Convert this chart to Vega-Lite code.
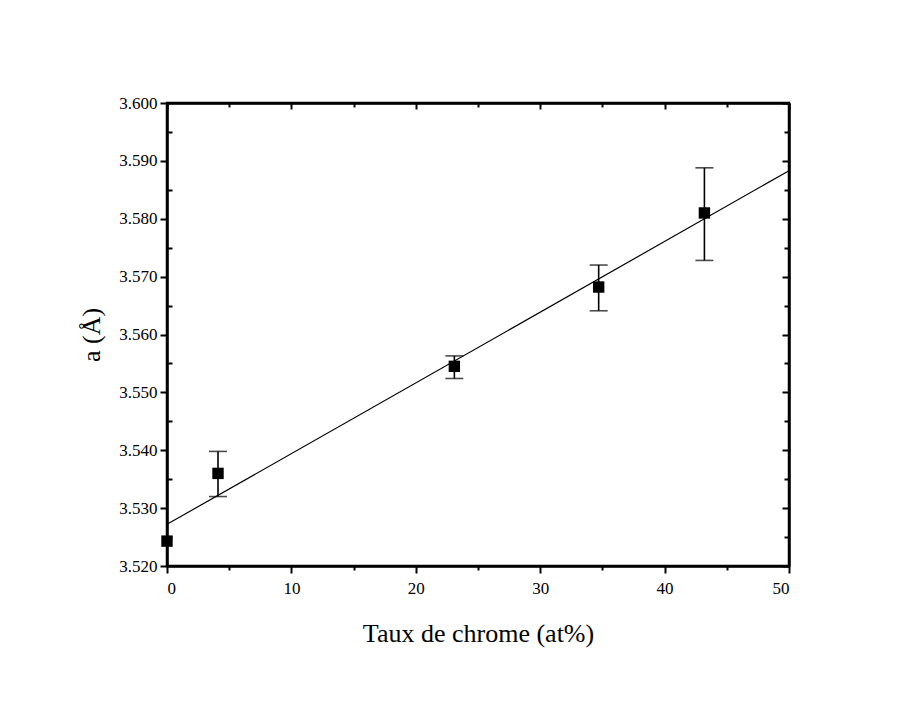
{
  "$schema": "https://vega.github.io/schema/vega-lite/v6.json",
  "width": 622,
  "height": 463,
  "autosize": "none",
  "padding": {"left": 167, "top": 103, "right": 119, "bottom": 136},
  "background": "white",
  "config": {
    "font": "Liberation Serif",
    "view": {"stroke": "black", "strokeWidth": 2.5},
    "axis": {
      "domainColor": "black",
      "domainWidth": 2.5,
      "tickColor": "black",
      "tickWidth": 2,
      "labelColor": "black",
      "labelFont": "Liberation Serif",
      "labelFontSize": 17,
      "titleFont": "Liberation Serif",
      "titleFontSize": 26,
      "titleFontWeight": "normal",
      "titleColor": "black",
      "grid": false
    }
  },
  "datasets": {
    "pts": [
      {"x": 0.0, "a": 3.5243, "lo": null, "hi": null},
      {"x": 4.1, "a": 3.5360, "lo": 3.5320, "hi": 3.5398},
      {"x": 23.1, "a": 3.5545, "lo": 3.5524, "hi": 3.5563},
      {"x": 34.7, "a": 3.5682, "lo": 3.5641, "hi": 3.5720},
      {"x": 43.2, "a": 3.5810, "lo": 3.5728, "hi": 3.5888}
    ],
    "fit": [
      {"x": 0, "a": 3.5272},
      {"x": 50, "a": 3.5883}
    ]
  },
  "resolve": {"axis": {"x": "independent", "y": "independent"}},
  "layer": [
    {
      "data": {"name": "fit"},
      "mark": {"type": "line", "color": "black", "strokeWidth": 1.2},
      "encoding": {
        "x": {
          "field": "x", "type": "quantitative",
          "scale": {"domain": [0, 50], "nice": false, "zero": false},
          "axis": {
            "orient": "bottom",
            "title": "Taux de chrome (at%)",
            "titlePadding": 24,
            "values": [0, 5, 10, 15, 20, 25, 30, 35, 40, 45, 50],
            "tickSize": {"condition": {"test": "datum.value % 10 == 0", "value": 7}, "value": 4},
            "labelExpr": "datum.value % 10 == 0 ? datum.label : ''",
            "labelPadding": 7
          }
        },
        "y": {
          "field": "a", "type": "quantitative",
          "scale": {"domain": [3.52, 3.6], "nice": false, "zero": false},
          "axis": {
            "orient": "left",
            "title": "a (Å)",
            "titlePadding": 14,
            "format": ".3f",
            "values": [3.52, 3.525, 3.53, 3.535, 3.54, 3.545, 3.55, 3.555, 3.56, 3.565, 3.57, 3.575, 3.58, 3.585, 3.59, 3.595, 3.6],
            "tickSize": {"condition": {"test": "round(datum.value*1000) % 10 == 0", "value": 7}, "value": -5},
            "labelExpr": "round(datum.value*1000) % 10 == 0 ? datum.label : ''",
            "labelPadding": 3
          }
        }
      }
    },
    {
      "data": {"name": "pts"},
      "mark": {"type": "rule", "color": "black", "strokeWidth": 1.6},
      "encoding": {
        "x": {"field": "x", "type": "quantitative", "axis": null},
        "y": {"field": "lo", "type": "quantitative", "axis": null},
        "y2": {"field": "hi"}
      }
    },
    {
      "data": {"name": "pts"},
      "mark": {"type": "tick", "orient": "horizontal", "color": "black", "size": 18, "thickness": 1.6},
      "encoding": {
        "x": {"field": "x", "type": "quantitative", "axis": null},
        "y": {"field": "lo", "type": "quantitative", "axis": null}
      }
    },
    {
      "data": {"name": "pts"},
      "mark": {"type": "tick", "orient": "horizontal", "color": "black", "size": 18, "thickness": 1.6},
      "encoding": {
        "x": {"field": "x", "type": "quantitative", "axis": null},
        "y": {"field": "hi", "type": "quantitative", "axis": null}
      }
    },
    {
      "data": {"name": "pts"},
      "mark": {"type": "square", "color": "black", "opacity": 1, "size": 130},
      "encoding": {
        "x": {"field": "x", "type": "quantitative", "axis": null},
        "y": {"field": "a", "type": "quantitative", "axis": null}
      }
    },
    {
      "data": {"name": "fit"},
      "mark": {"type": "point", "opacity": 0},
      "encoding": {
        "x": {
          "field": "x", "type": "quantitative",
          "axis": {
            "orient": "top", "title": null, "labels": false,
            "values": [0, 5, 10, 15, 20, 25, 30, 35, 40, 45, 50],
            "tickSize": {"condition": {"test": "datum.value % 10 == 0", "value": -6}, "value": -4}
          }
        },
        "y": {
          "field": "a", "type": "quantitative",
          "axis": {
            "orient": "right", "title": null, "labels": false,
            "values": [3.52, 3.525, 3.53, 3.535, 3.54, 3.545, 3.55, 3.555, 3.56, 3.565, 3.57, 3.575, 3.58, 3.585, 3.59, 3.595, 3.6],
            "tickSize": {"condition": {"test": "round(datum.value*1000) % 10 == 0", "value": -7}, "value": -5}
          }
        }
      }
    }
  ]
}
